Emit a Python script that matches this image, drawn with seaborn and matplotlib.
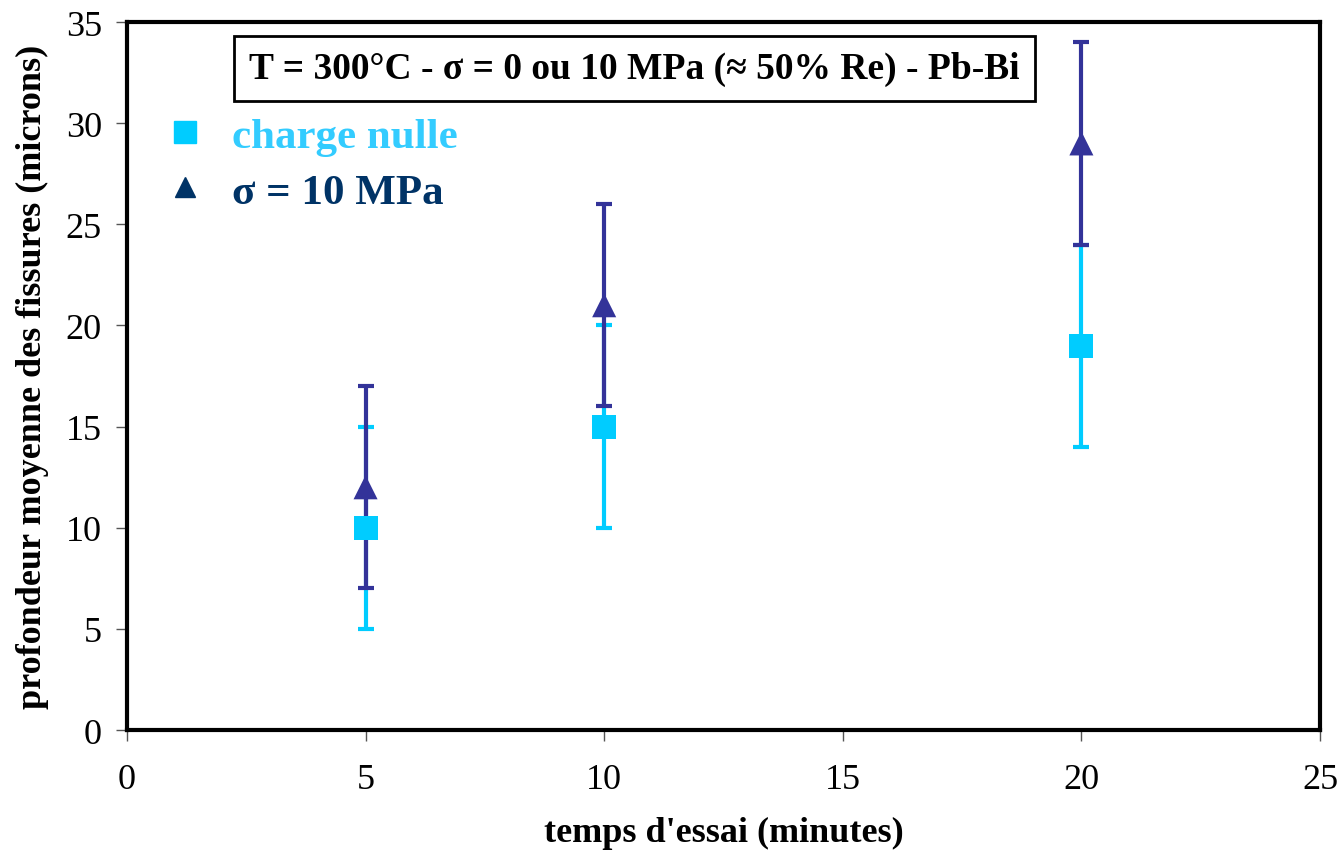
import pandas as pd
import seaborn as sns
import matplotlib.pyplot as plt

temps = [5, 10, 20]
prof_nulle = [10, 15, 19]
err_nulle = [5, 5, 5]
prof_sigma = [12, 21, 29]
err_sigma = [5, 5, 5]
series = ["charge nulle", "σ = 10 MPa"]

df = pd.DataFrame({
    "temps": temps + temps,
    "profondeur": prof_nulle + prof_sigma,
    "err": err_nulle + err_sigma,
    "serie": [series[0]] * 3 + [series[1]] * 3,
})

sns.set_style("white")
plt.rcParams["font.family"] = ["Liberation Serif", "DejaVu Serif"]
plt.rcParams["text.color"] = "black"
plt.rcParams["axes.labelcolor"] = "black"

cols = {series[0]: "#00CCFF", series[1]: "#333399"}
text_cols = {series[0]: "#33CCFF", series[1]: "#003366"}

fig = plt.figure(figsize=(13.42, 8.54), dpi=100)
ax = fig.add_axes([0.0946, 0.144, 0.889, 0.829])

for s in series:
    d = df[df["serie"] == s]
    ax.errorbar(d["temps"], d["profondeur"], yerr=d["err"], fmt="none",
                ecolor=cols[s], elinewidth=3, capsize=6, capthick=3, zorder=2)

sns.scatterplot(data=df, x="temps", y="profondeur", hue="serie", style="serie",
                palette=cols, markers={series[0]: "s", series[1]: "^"},
                s=300, linewidth=0, ax=ax, zorder=3, legend=False)

ax.set_xlim(0, 25)
ax.set_ylim(0, 35)
ax.set_xticks(range(0, 26, 5))
ax.set_yticks(range(0, 36, 5))
ax.tick_params(axis="both", labelsize=26, labelcolor="black", direction="out",
               length=8, width=1, color="#555555", left=True, bottom=True)
ax.tick_params(axis="x", pad=16)
ax.tick_params(axis="y", pad=10)
for sp in ax.spines.values():
    sp.set_visible(True)
    sp.set_color("black")
    sp.set_linewidth(3)

ax.set_xlabel("temps d'essai (minutes)", fontsize=26, fontweight="bold", labelpad=14)
ax.set_ylabel("profondeur moyenne des fissures (microns)", fontsize=26,
              fontweight="bold", labelpad=12)

ax.text(0.4255, 0.935, "T = 300°C - σ = 0 ou 10 MPa (≈ 50% Re) - Pb-Bi",
        transform=ax.transAxes, ha="center", va="center", fontsize=27,
        fontweight="bold",
        bbox=dict(boxstyle="square,pad=0.4", fc="white", ec="black", lw=2))

# legende a la main
handles = [
    plt.Line2D([], [], marker="s", color=cols[series[0]], ls="none", markersize=16),
    plt.Line2D([], [], marker="^", color="#003366", ls="none", markersize=14),
]
leg = ax.legend(handles, series, loc="upper left", bbox_to_anchor=(0.0306, 0.866),
                frameon=False, prop={"size": 31, "weight": "bold"},
                handlelength=1.0, handletextpad=0.6, labelspacing=0.38,
                borderpad=0, borderaxespad=0)
for t, s in zip(leg.get_texts(), series):
    t.set_color(text_cols[s])

fig.savefig("out.png", dpi=100)
